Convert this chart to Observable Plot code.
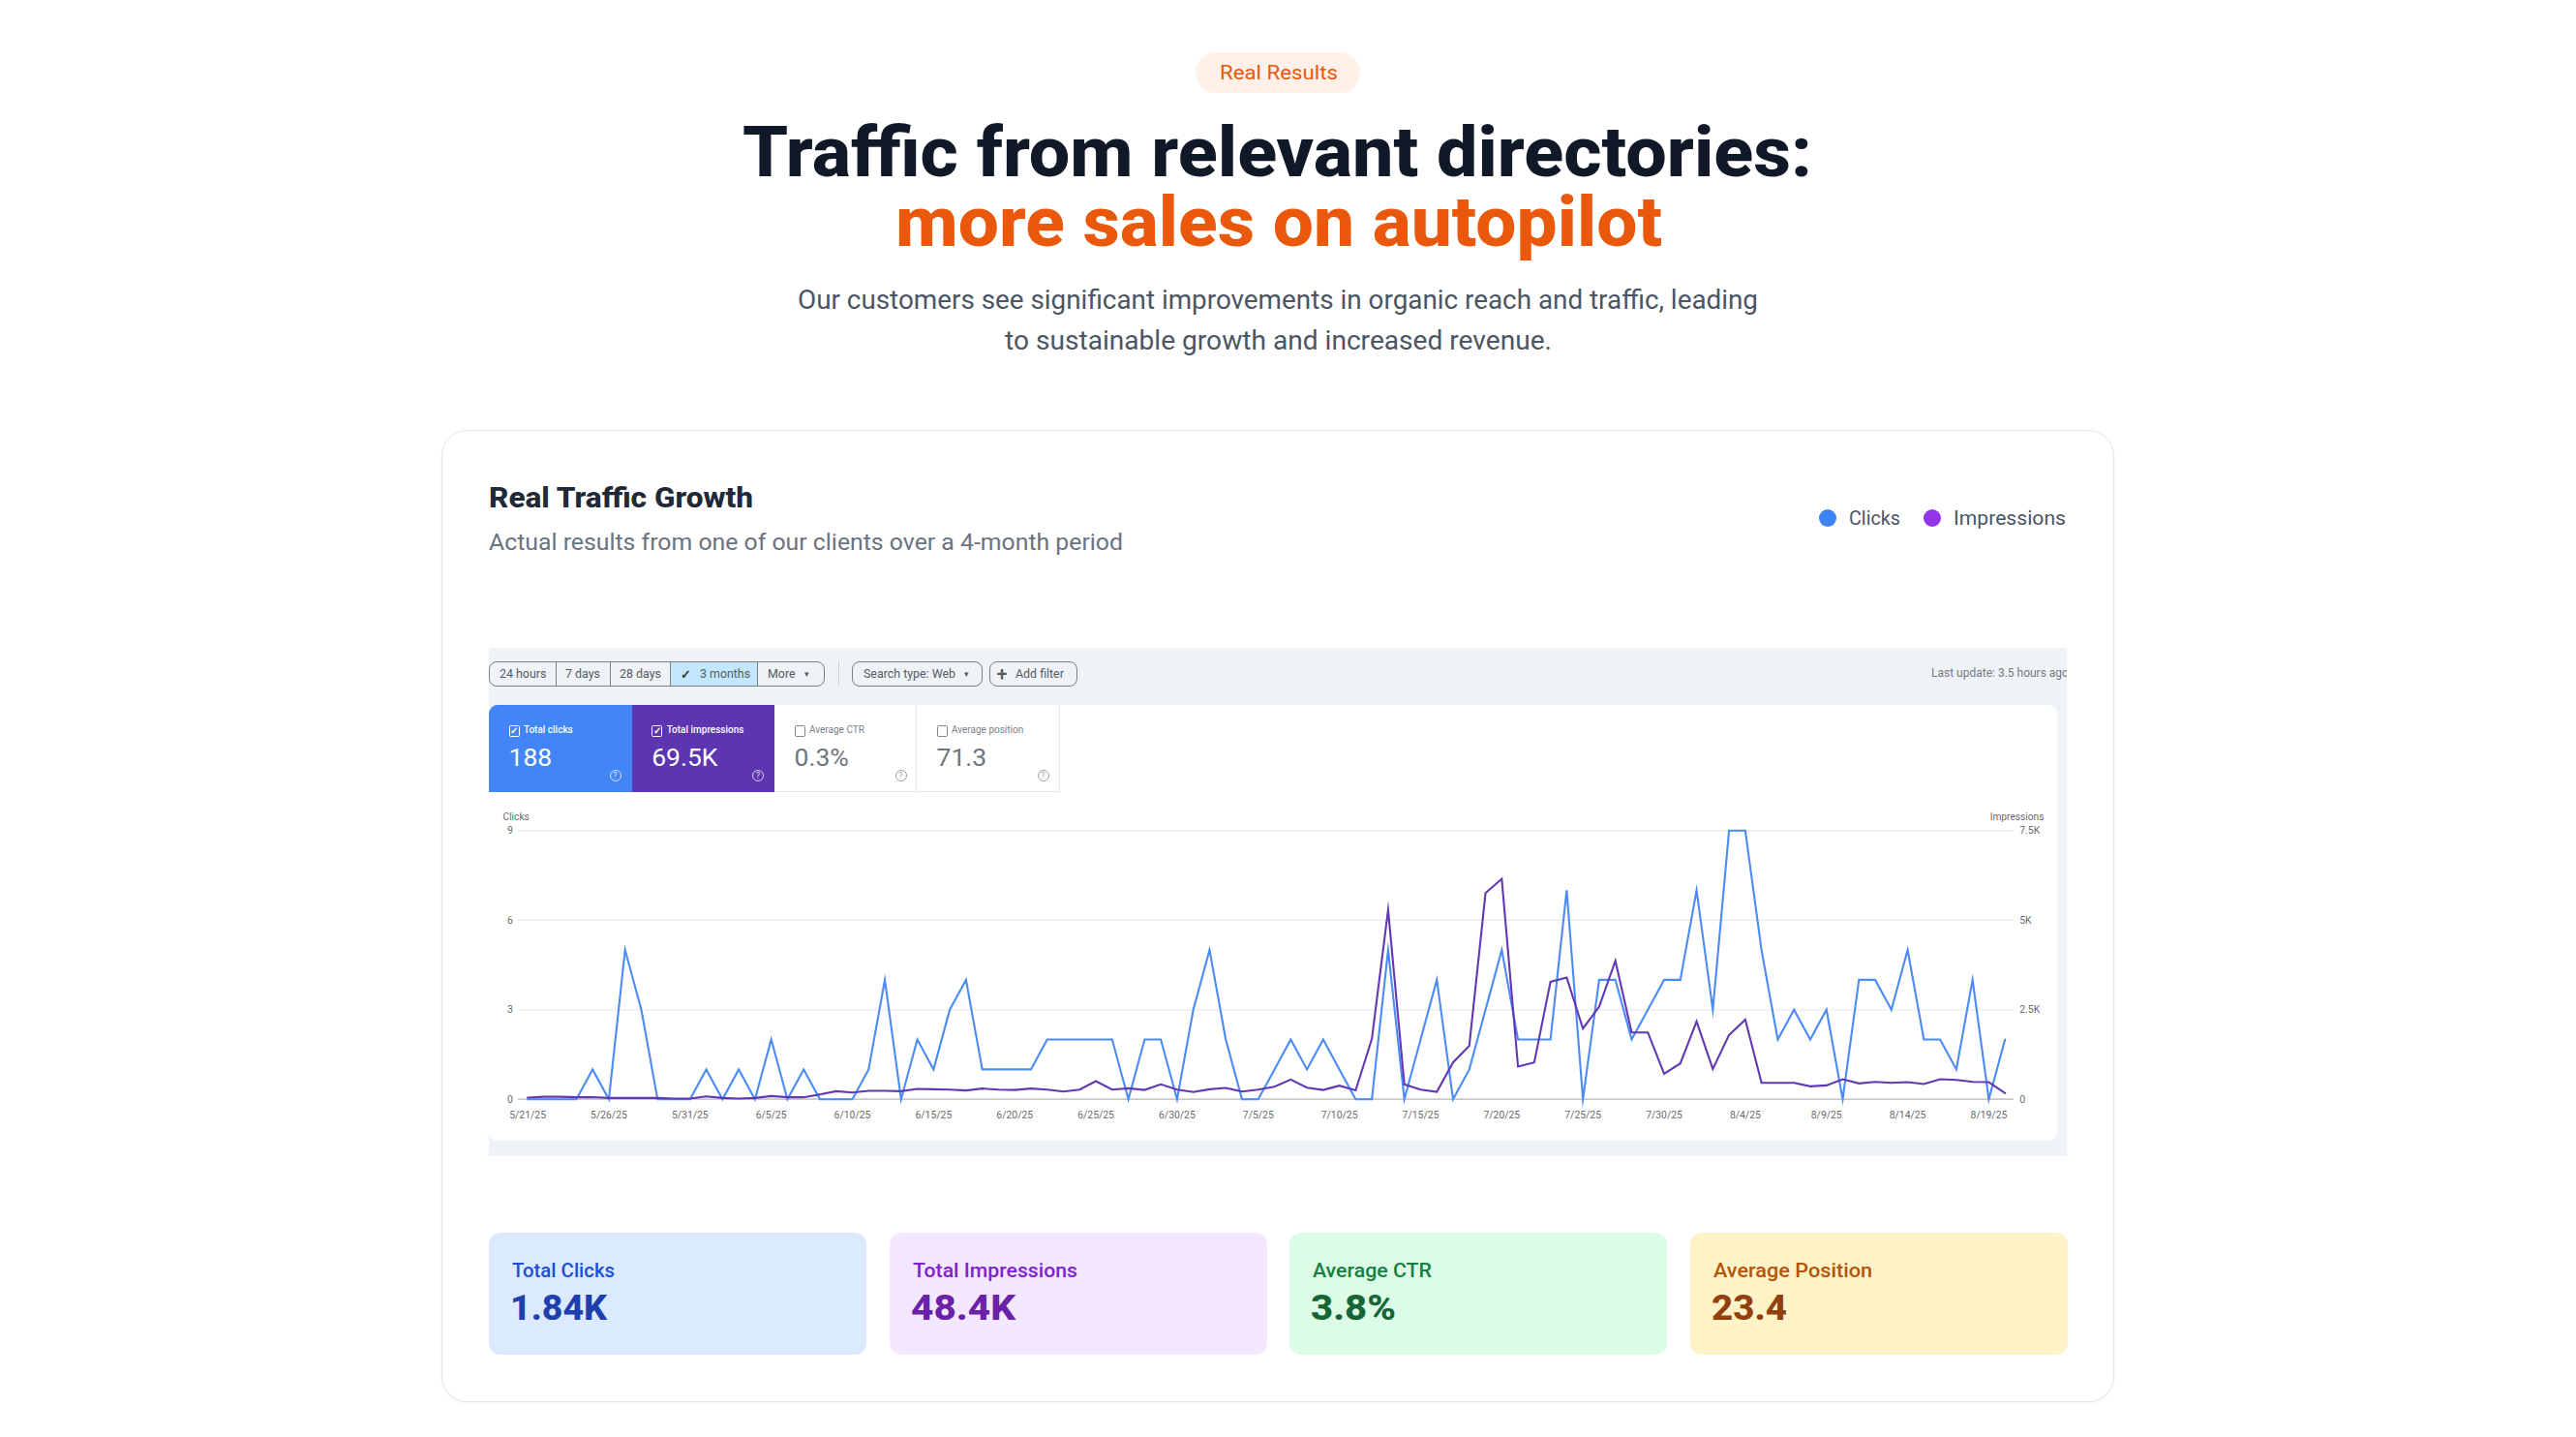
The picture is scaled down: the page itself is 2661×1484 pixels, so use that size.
<!DOCTYPE html>
<html>
<head>
<meta charset="utf-8">
<script src="https://cdn.jsdelivr.net/npm/d3@7"></script>
<script src="https://cdn.jsdelivr.net/npm/@observablehq/plot@0.6"></script>
<style>
html,body{margin:0;padding:0;background:#fff}
#page{position:relative;width:2661px;height:1484px;overflow:hidden;background:#fff;font-family:Roboto,sans-serif}
.box{position:absolute;box-sizing:border-box}
.t{position:absolute;white-space:nowrap;line-height:1;transform-origin:0 50%}
svg text{font-family:Roboto,sans-serif}
</style>
</head>
<body>
<div id="page"></div>
<script>
// ---------- chart data ----------
const startDay = "2025-05-21";
const clicks = [0,0,0,0,1,0,5,3,0,0,0,1,0,1,0,2,0,1,0,0,0,1,4,0,2,1,3,4,1,1,1,1,2,2,2,2,2,0,2,2,
  0,3,5,2,0,0,1,2,1,2,1,0,0,5,0,2,4,0,1,3,5,2,2,2,7,0,4,4,2,3,4,4,7,3,9,9,5,2,3,2,3,0,4,4,3,5,2,2,1,4,0,2];
const impressions = [45,70,70,55,60,35,35,35,35,20,20,80,35,20,35,90,55,55,135,225,190,235,235,225,290,280,270,245,300,270,260,300,270,215,270,505,270,305,260,415,
  270,200,280,315,215,270,350,550,325,260,380,250,1685,5290,415,270,205,1027,1495,5757,6155,910,1027,3280,3397,1973,2586,3865,1865,1865,
  712,1000,2171,847,1793,2225,460,460,460,360,387,558,441,486,460,477,423,558,540,486,477,171];
const clickTicks = [0,3,6,9];
const impressionTickLabels = ["0","2.5K","5K","7.5K"];
const impressionMax = 7500, clickMax = 9;

// ---------- page text ----------
const statCards = [
  {label:"Total Clicks",      value:"1.84K", bg:"#dbeafe", lc:"#1d4ed8", vc:"#1e40af", left:505,  lw:106, vw:100},
  {label:"Total Impressions", value:"48.4K", bg:"#f3e8ff", lc:"#7e22ce", vc:"#6b21a8", left:919,  lw:170, vw:108},
  {label:"Average CTR",       value:"3.8%",  bg:"#dcfce7", lc:"#15803d", vc:"#166534", left:1332, lw:123, vw:88},
  {label:"Average Position",  value:"23.4",  bg:"#fef3c7", lc:"#b45309", vc:"#92400e", left:1746, lw:164, vw:78}
];
const rangeButtons = [["24 hours",505,574,11],["7 days",574,629.5,79],["28 days",629.5,692,135],["3 months",692,782.6,218],["More",782.6,852,288]];
const tiles = [
  {label:"Total clicks",      value:"188",   left:505, right:652.7, bg:"#4285f4", fg:"#fff"},
  {label:"Total impressions", value:"69.5K", left:652.7, right:800, bg:"#5e35b1", fg:"#fff"},
  {label:"Average CTR",       value:"0.3%",  left:800, right:947, bg:"#fff", fg:"#70757a"},
  {label:"Average position",  value:"71.3",  left:947, right:1095, bg:"#fff", fg:"#70757a"}
];

// ---------- helpers ----------
const page = document.getElementById("page");
function box(parent, x, y, w, h, css){
  const e = document.createElement("div"); e.className = "box";
  e.style.cssText = `left:${x}px;top:${y}px;width:${w}px;height:${h}px;${css||""}`;
  parent.appendChild(e); return e;
}
const fits = [];
// x: left edge, cy: vertical centre, w: target ink width (squeezes the installed font to match)
function text(parent, s, x, cy, size, weight, color, w, extra){
  const e = document.createElement("span"); e.className = "t"; e.textContent = s;
  e.style.cssText = `left:${x}px;top:${cy-size/2}px;font-size:${size}px;font-weight:${weight};color:${color};${extra||""}`;
  parent.appendChild(e);
  if (w) fits.push([e,w]);
  return e;
}

// ---------- header ----------
box(page,1235,54,170,42,"background:#fff1e8;border-radius:21px");
text(page,"Real Results",1260,75,21,400,"#ea580c",122);
const headingFit = "line-height:.9;margin-top:3.6px;";
text(page,"Traffic from relevant directories:",767,158,72,800,"#111827",1105,headingFit);
text(page,"more sales on autopilot",925,230,72,800,"#ea580c",792,headingFit);
text(page,"Our customers see significant improvements in organic reach and traffic, leading",824,310,27,400,"#4b5563",992);
text(page,"to sustainable growth and increased revenue.",1038,352,27,400,"#4b5563",565);

// ---------- card ----------
box(page,456,444,1728,1004,"background:#fff;border:1.5px solid #e5e7eb;border-radius:27px;box-shadow:0 1px 3px rgba(0,0,0,.06)");
text(page,"Real Traffic Growth",505,514,30,800,"#1f2937",273);
text(page,"Actual results from one of our clients over a 4-month period",505,559.5,24,400,"#6b7280",655);
box(page,1879,526,18,18,"background:#3b82f6;border-radius:50%");
text(page,"Clicks",1910,535,21,400,"#4b5563",53);
box(page,1987,526,18,18,"background:#9333ea;border-radius:50%");
text(page,"Impressions",2018,535,21,400,"#4b5563",116);

// ---------- dashboard screenshot block ----------
const shot = box(page,505,669,1630,525,"background:#eff3f8;overflow:hidden");
const ox=505, oy=669;
const btnInk = "#555b60", btnLine = "#7b8085";
box(shot,0,13.5,347,26.5,`border:1.3px solid ${btnLine};border-radius:8px`);
rangeButtons.forEach(([label,a,b,tx],i)=>{
  const active = label==="3 months";
  if(active) box(shot,a-ox,13.5,b-a,26.5,`background:#c2e7ff;border:1.3px solid ${btnLine}`);
  else if(i>0 && i<4) box(shot,a-ox,13.5,1.3,26.5,`background:${btnLine}`);
  text(shot,label,tx,27,12.4,400,btnInk);
});
text(shot,"✓",198,27,13,700,"#3c4043");
box(shot,360.5,13,1.2,27,"background:#cfd3d8");
box(shot,374.5,13.5,135.5,26.5,`border:1.3px solid ${btnLine};border-radius:8px`);
text(shot,"Search type: Web",387,27,12.4,400,btnInk);
box(shot,517,13.5,90.5,26.5,`border:1.3px solid ${btnLine};border-radius:8px`);
text(shot,"+",524.5,26.5,20,500,btnInk);
text(shot,"Add filter",544,27,12.4,400,btnInk);
text(shot,"▾",326,27,9,400,btnInk);
text(shot,"▾",491,27,9,400,btnInk);
text(shot,"Last update: 3.5 hours ago",1490,26,12,400,"#757a7f");

// white panel
box(shot,0,59,1620,450,"background:#fff;border-radius:9px");
tiles.forEach((t,i)=>{
  const x=t.left-ox, w=t.right-t.left;
  const on = i<2;
  box(shot,x,59,w,90,`background:${t.bg};${i===0?"border-top-left-radius:9px;":""}${on?"":"border-right:1.5px solid #e6e8eb;border-bottom:1.5px solid #e6e8eb;"}`);
  box(shot,x+20.5,80,11,12,`border:1.2px solid ${on?"#fff":"#80868b"};border-radius:1.5px`);
  if(on) text(shot,"✓",x+22,85.5,10,700,"#fff");
  text(shot,t.label,x+36,84.8,10,on?500:400,on?"#fff":"#7c8186");
  text(shot,t.value,x+20.5,113,26.5,400,t.fg);
  box(shot,x+124.5,126,12,12,`border:1.1px solid ${on?"rgba(255,255,255,.75)":"#9aa0a6"};border-radius:50%`);
  text(shot,"?",x+128.2,132,8.5,400,on?"rgba(255,255,255,.85)":"#9aa0a6");
});

// ---------- the chart ----------
const parse = d3.utcParse("%Y-%m-%d");
const t0 = parse(startDay);
const rows = clicks.map((c,i)=>({date:d3.utcDay.offset(t0,i),clicks:c,impressions:impressions[i]}));
const xTicks = rows.filter((d,i)=>i%5===0 && i<=90).map(d=>d.date);
const fmt = d=>`${d.getUTCMonth()+1}/${d.getUTCDate()}/${String(d.getUTCFullYear()).slice(2)}`;
const axisInk = "#6a6a6a";

const chart = Plot.plot({
  width:1630, height:340,
  marginLeft:30, marginRight:55, marginTop:27.3, marginBottom:35.3,
  style:{background:"transparent",fontFamily:"Roboto,sans-serif",overflow:"visible"},
  x:{type:"utc",domain:[rows[0].date,rows[rows.length-1].date],range:[39.6,1565.7]},
  y:{domain:[0,clickMax]},
  marks:[
    Plot.ruleY(clickTicks.slice(1),{stroke:"#eeeeee",strokeWidth:1.4}),
    Plot.axisY({anchor:"left",ticks:clickTicks,tickSize:0,tickPadding:5.5,fontSize:10.5,color:axisInk,label:null}),
    Plot.axisY({anchor:"right",ticks:clickTicks,tickSize:0,tickPadding:5.7,fontSize:10.5,color:axisInk,label:null,
      tickFormat:d=>impressionTickLabels[clickTicks.indexOf(d)]}),
    Plot.axisX({ticks:xTicks,tickSize:0,tickPadding:12.5,fontSize:10.4,color:axisInk,label:null,tickFormat:fmt}),
    Plot.text(["Clicks"],{frameAnchor:"top-left",dx:-16,dy:-13.6,textAnchor:"start",lineAnchor:"middle",fontSize:10.2,fill:axisInk}),
    Plot.text(["Impressions"],{frameAnchor:"top-right",dx:31,dy:-13.6,textAnchor:"end",lineAnchor:"middle",fontSize:10.2,fill:axisInk}),
    Plot.ruleY([0],{stroke:"#c9c9c9",strokeWidth:1.8}),
    Plot.line(rows,{x:"date",y:"clicks",stroke:"#4a8bf5",strokeWidth:2.1,strokeLinejoin:"miter",strokeMiterlimit:10}),
    Plot.line(rows,{x:"date",y:d=>d.impressions/impressionMax*clickMax,stroke:"#6239b3",strokeWidth:2.1,strokeLinejoin:"miter",strokeMiterlimit:10})
  ]
});
chart.style.position="absolute"; chart.style.left="0px"; chart.style.top=(830-oy)+"px";
chart.setAttribute("overflow","visible");
shot.appendChild(chart);

// ---------- stat cards ----------
statCards.forEach(c=>{
  box(page,c.left,1273,390,126,`background:${c.bg};border-radius:12px`);
  text(page,c.label,c.left+24,1312,21,500,c.lc,c.lw);
  text(page,c.value,c.left+22,1351,36,800,c.vc,c.vw);
});

fits.forEach(([e,w])=>{
  const real = e.getBoundingClientRect().width;
  e.style.transform = `scaleX(${w/real})`;
});
</script>
</body>
</html>
